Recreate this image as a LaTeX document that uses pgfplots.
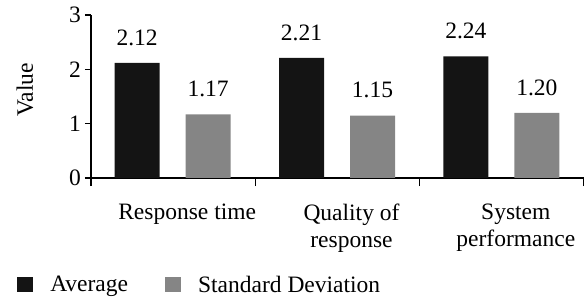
\documentclass[border=0pt]{standalone}
\usepackage{pgfplots}
\pgfplotsset{compat=1.18}
\usepackage{fontspec}
\setmainfont{Liberation Serif}
\definecolor{avgc}{HTML}{141414}
\definecolor{sdc}{HTML}{858585}
\newcommand\ff{\fontsize{23.5bp}{27bp}\selectfont}
\begin{document}
\begin{tikzpicture}
\path[use as bounding box] (0,0) rectangle (584bp,297bp);
\begin{axis}[
  at={(91bp,119bp)}, anchor=south west,
  scale only axis, width=493bp, height=163bp,
  xmin=-0.5, xmax=2.5, ymin=0, ymax=3,
  axis x line*=bottom, axis y line*=left,
  axis line style={-, line width=1.6bp, black},
  ybar, bar width=45bp,
  ytick={0,1,2,3},
  xtick={0,1,2},
  xticklabels={{Response time},{Quality of\\response},{System\\performance}},
  minor xtick={-0.5,0.5,1.5,2.5},
  major x tick style={draw=none},
  tick align=outside,
  major tick length=6bp, minor tick length=8bp,
  tick style={line width=1.6bp, black},
  /pgf/number format/assume math mode=true,
  tick label style={font=\ff},
  xticklabel style={align=center, anchor=north, inner sep=0pt, yshift=-20bp, xshift=14bp},
  yticklabel style={inner sep=0pt, xshift=-4bp},
  nodes near coords,
  nodes near coords style={font=\ff, inner sep=0pt, anchor=south, yshift=17bp,
    /pgf/number format/.cd, fixed, fixed zerofill, precision=2, assume math mode=true},
  legend columns=2,
  legend style={at={(-0.150,-0.656)}, anchor=west, draw=none, fill=none,
    font=\ff, inner sep=0pt, nodes={inner sep=0pt},
    /tikz/every odd column/.append style={column sep=17bp},
    /tikz/every even column/.append style={column sep=37bp}},
  legend cell align=left,
  legend image code/.code={\fill[#1] (0bp,-7.5bp) rectangle (16bp,7.5bp);},
]
\addplot[fill=avgc, draw=none, bar shift=-36bp] coordinates {(0,2.12) (1,2.21) (2,2.24)};
\addplot[fill=sdc, draw=none, bar shift=35bp] coordinates {(0,1.17) (1,1.15) (2,1.20)};
\legend{Average, Standard Deviation}
\end{axis}
\node[rotate=90, font=\ff] at (25bp,207bp) {Value};
\end{tikzpicture}
\end{document}
